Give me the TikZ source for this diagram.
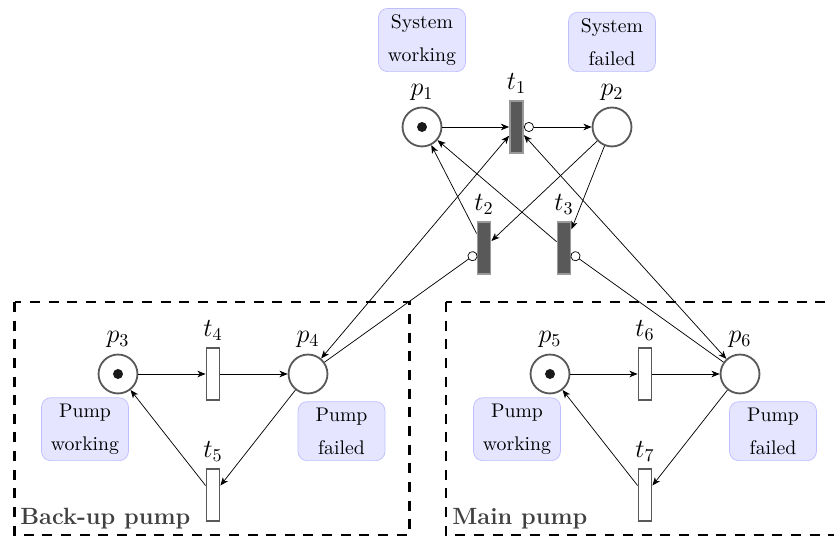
\documentclass[tikz,border=0pt]{standalone}
\usetikzlibrary{arrows.meta}

\begin{document}
\begin{tikzpicture}
[
	x=5.525pt,
	y=5.525pt,
	>={Stealth[length=4.5pt,width=3.6pt,inset=1.3pt]},
	place/.style={circle,draw=black!65,line width=1pt,fill=white,inner sep=0pt,minimum size=21.5pt},
	trans/.style={rectangle,draw=black!65,line width=1pt,fill=white,inner sep=0pt,minimum width=7.2pt,minimum height=28.8pt},
	firing/.style={trans,draw=black!40,fill=black!65},
	tok/.style={circle,fill=black!90,inner sep=0pt,minimum size=5.5pt},
	state/.style={anchor=south,rounded corners=5pt,draw=blue!25,fill=blue!10,align=center,minimum width=48pt,inner ysep=3.5pt,font=\fontsize{10.9}{18}\selectfont},
	group/.style={draw,dash pattern=on 5.5pt off 4.8pt,line width=1.6pt},
	grouplabel/.style={anchor=base west,inner sep=0pt,text=black!75,font=\fontsize{13}{16}\selectfont\bfseries},
	inhib/.style={-{Circle[open,length=5.5pt]}},
	every label/.style={font=\fontsize{14}{16}\selectfont}
]

	\useasboundingbox (0,0) rectangle (83.4,53.8);
	\clip (0,0) rectangle (83.4,53.8);

	% pump groups
	\draw[group] (1.45,23.6) rectangle (40.95,0.3);
	\draw[group] (44.6,23.6) rectangle (85,0.3);
	\node[grouplabel] (backuplbl) at (2.0,1.3) {Back-up pump};
	\node[grouplabel] (mainlbl) at (45.2,1.3) {Main pump};

	% system
	\node[place,label=above:$p_1$] (p1) at (42.2,41.1) {};
	\node[firing,label=above:$t_1$] (t1) at (51.65,41.1) {};
	\node[place,label=above:$p_2$] (p2) at (61.2,41.1) {};
	\node[firing,label=above:$t_2$] (t2) at (48.4,29.0) {};
	\node[firing,label=above:$t_3$] (t3) at (56.4,29.0) {};
	\node[tok] (k1) at (p1) {};

	\node[state] (sysok) at (42.2,46.6) {System\\working};
	\node[state] (sysfail) at (61.2,46.6) {System\\failed};

	% back-up pump
	\node[place,label=above:$p_3$] (p3) at (11.8,16.4) {};
	\node[trans,label=above:$t_4$] (t4) at (21.3,16.4) {};
	\node[place,label=above:$p_4$] (p4) at (30.8,16.4) {};
	\node[trans,label=above:$t_5$] (t5) at (21.3,4.3) {};
	\node[tok] (k3) at (p3) {};

	\node[state] (pumpok1) at (8.5,7.7) {Pump\\working};
	\node[state] (pumpfail1) at (34.15,7.7) {Pump\\failed};

	% main pump
	\node[place,label=above:$p_5$] (p5) at (55.0,16.4) {};
	\node[trans,label=above:$t_6$] (t6) at (64.5,16.4) {};
	\node[place,label=above:$p_6$] (p6) at (74.0,16.4) {};
	\node[trans,label=above:$t_7$] (t7) at (64.5,4.3) {};
	\node[tok] (k5) at (p5) {};

	\node[state] (pumpok2) at (51.7,7.7) {Pump\\working};
	\node[state] (pumpfail2) at (77.3,7.7) {Pump\\failed};

	% arcs
	\draw[->] (p1) -- (t1);
	\draw[{Circle[open,length=5.5pt]}->] (t1) -- (p2);
	\draw[->] (p2) -- (t2);
	\draw[->] (p2) -- (t3);
	\draw[->] (t2) -- (p1);
	\draw[->] (t3) -- (p1);
	\draw[<->] (p4) -- (t1);
	\draw[<->] (p6) -- (t1);
	\draw[inhib] (p4) -- (t2);
	\draw[inhib] (p6) -- (t3);

	\draw[->] (p3) -- (t4);
	\draw[->] (t4) -- (p4);
	\draw[->] (p4) -- (t5);
	\draw[->] (t5) -- (p3);

	\draw[->] (p5) -- (t6);
	\draw[->] (t6) -- (p6);
	\draw[->] (p6) -- (t7);
	\draw[->] (t7) -- (p5);

\end{tikzpicture}
\end{document}
